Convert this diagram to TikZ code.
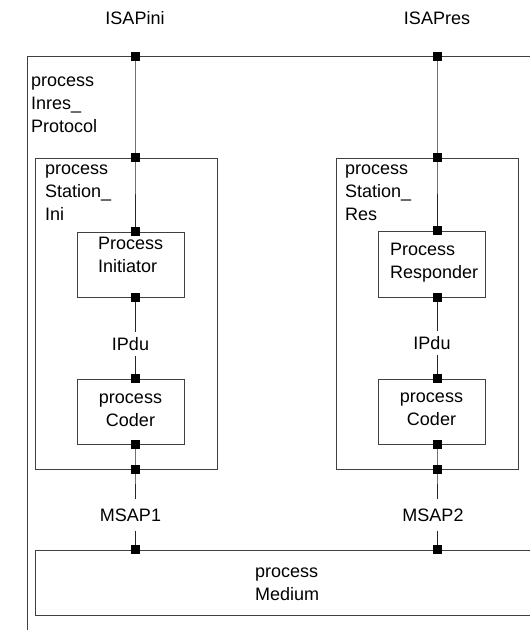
\documentclass[tikz,border=0pt]{standalone}
\usepackage{fontspec}
\setmainfont{Liberation Sans}
\begin{document}
\begin{tikzpicture}[x=1pt,y=-1pt,
  box/.style={draw=black!75, line width=1pt, inner sep=0pt, rectangle},
  conn/.style={draw=black!85, line width=1pt},
  port/.style={fill=black, inner sep=0pt, minimum size=9pt, rectangle},
  lbl/.style={font=\fontsize{18}{23}\selectfont, inner sep=0pt},
  gaplbl/.style={font=\fontsize{18}{23}\selectfont, inner sep=#1},
]
\useasboundingbox (0,0) rectangle (530,630);
\clip (0,0) rectangle (530,630);
% boxes
\node[box, minimum width=513pt, minimum height=590pt] (outer) at (283.5,351.5) {};
\node[box, minimum width=182pt, minimum height=311pt] (stIni) at (126,313.5) {};
\node[box, minimum width=181.5pt, minimum height=311pt] (stRes) at (427.25,313.5) {};
\node[box, minimum width=107pt, minimum height=65pt] (init) at (130.5,264.5) {};
\node[box, minimum width=107pt, minimum height=65pt] (codI) at (130.5,411.5) {};
\node[box, minimum width=107pt, minimum height=66pt] (resp) at (431.5,264) {};
\node[box, minimum width=107pt, minimum height=65pt] (codR) at (431.5,411.5) {};
\node[box, minimum width=510pt, minimum height=65.5pt] (medium) at (290.5,582.75) {};
% texts
\node[lbl, align=left, anchor=west] (tOuter) at (31,105) {process\\Inres\_\\Protocol};
\node[lbl, align=left, anchor=west] (tStIni) at (45,193) {process\\Station\_\\Ini};
\node[lbl, align=left, anchor=west] (tStRes) at (345,193) {process\\Station\_\\Res};
\node[lbl, align=left, anchor=west] (tInit) at (98,255) {Process\\Initiator};
\node[lbl, align=left, anchor=west] (tResp) at (390,263) {Process\\Responder};
\node[lbl, align=center] (tCodI) at (130.5,410.5) {process\\Coder};
\node[lbl, align=center] (tCodR) at (431.5,409.5) {process\\Coder};
\node[lbl, align=left, anchor=west] (tMed) at (255,584) {process\\Medium};
\node[lbl] (isapini) at (135,18) {ISAPini};
\node[lbl] (isapres) at (437,18) {ISAPres};
\node[gaplbl=5pt] (ipduI) at (130.5,344) {IPdu};
\node[gaplbl=5pt] (ipduR) at (432,343) {IPdu};
\node[gaplbl=9pt] (msap1) at (130.5,515) {MSAP1};
\node[gaplbl=9pt] (msap2) at (433,515) {MSAP2};
% line x positions
\coordinate (lx) at (135,0);
\coordinate (rx) at (437,0);
% connectors left
\draw[conn] (outer.north -| lx) -- (stIni.north -| lx) -- (init.north -| lx);
\draw[conn] (init.south -| lx) -- (ipduI.north -| lx);
\draw[conn] (ipduI.south -| lx) -- (codI.north -| lx);
\draw[conn] (codI.south -| lx) -- (stIni.south -| lx) -- (msap1.north -| lx);
\draw[conn] (msap1.south -| lx) -- (medium.north -| lx);
% connectors right
\draw[conn] (outer.north -| rx) -- (stRes.north -| rx) -- (resp.north -| rx);
\draw[conn] (resp.south -| rx) -- (ipduR.north -| rx);
\draw[conn] (ipduR.south -| rx) -- (codR.north -| rx);
\draw[conn] (codR.south -| rx) -- (stRes.south -| rx) -- (msap2.north -| rx);
\draw[conn] (msap2.south -| rx) -- (medium.north -| rx);
% ports
\foreach \b/\s [count=\i] in {outer/north, stIni/north, init/north, init/south, codI/north, codI/south, stIni/south, medium/north} {
  \node[port] (pl\i) at (\b.\s -| lx) {};
}
\foreach \b/\s [count=\i] in {outer/north, stRes/north, resp/north, resp/south, codR/north, codR/south, stRes/south, medium/north} {
  \node[port] (pr\i) at (\b.\s -| rx) {};
}
\end{tikzpicture}
\end{document}
